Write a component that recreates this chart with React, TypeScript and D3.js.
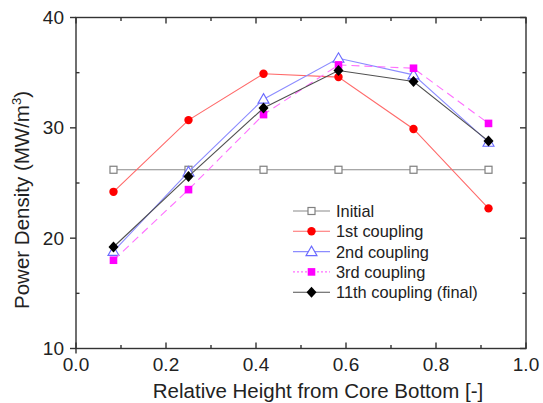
import React, { useRef, useEffect } from 'react';
import * as d3 from 'd3';

// relative height positions (cell centres)
const heights = [0.0833, 0.25, 0.4167, 0.5833, 0.75, 0.9167];

const initialValues = [26.2, 26.2, 26.2, 26.2, 26.2, 26.2];
const firstCoupling = [24.2, 30.7, 34.9, 34.6, 29.9, 22.7];
const secondCoupling = [18.8, 26.0, 32.6, 36.3, 34.8, 28.7];
const thirdCoupling = [18.0, 24.4, 31.2, 35.7, 35.4, 30.4];
const finalCoupling = [19.2, 25.6, 31.8, 35.2, 34.2, 28.8];

const xTicks = [0, 0.2, 0.4, 0.6, 0.8, 1.0];
const yTicks = [10, 20, 30, 40];

interface Series {
  name: string;
  values: number[];
  color: string;
  lineColor: string;
  dash: string | null;
  legendDash: string | null;
  marker: 'openSquare' | 'circle' | 'openTriangle' | 'square' | 'diamond';
}

const series: Series[] = [
  { name: 'Initial', values: initialValues, color: '#808080', lineColor: '#8a8a8a', dash: null, legendDash: null, marker: 'openSquare' },
  { name: '1st coupling', values: firstCoupling, color: '#ff0000', lineColor: '#ff6a6a', dash: null, legendDash: null, marker: 'circle' },
  { name: '2nd coupling', values: secondCoupling, color: '#6a6aff', lineColor: '#8c8cff', dash: null, legendDash: null, marker: 'openTriangle' },
  { name: '3rd coupling', values: thirdCoupling, color: '#ff00ff', lineColor: '#ff70ff', dash: '8,5', legendDash: '2,2', marker: 'square' },
  { name: '11th coupling (final)', values: finalCoupling, color: '#000000', lineColor: '#505050', dash: null, legendDash: null, marker: 'diamond' },
];

const W = 543;
const H = 403;

const App: React.FC = () => {
  const svgRef = useRef<SVGSVGElement>(null);

  useEffect(() => {
    if (!svgRef.current) return;
    const svg = d3.select(svgRef.current);
    svg.selectAll('*').remove();

    const left = 76, right = 526, top = 17.5, bottom = 348.5;
    const x = d3.scaleLinear().domain([0, 1]).range([left, right]);
    const y = d3.scaleLinear().domain([10, 40]).range([bottom, top]);
    const font = 'Liberation Sans, Arial, sans-serif';
    const axisColor = '#333';

    svg.append('rect').attr('width', W).attr('height', H).attr('fill', 'white');

    const drawMarker = (g: d3.Selection<SVGGElement, unknown, null, undefined>, kind: Series['marker'], cx: number, cy: number, color: string) => {
      if (kind === 'openSquare') {
        g.append('rect').attr('x', cx - 3.5).attr('y', cy - 3.5).attr('width', 7).attr('height', 7)
          .attr('fill', 'white').attr('stroke', color).attr('stroke-width', 1.2);
      } else if (kind === 'circle') {
        g.append('circle').attr('cx', cx).attr('cy', cy).attr('r', 4.2).attr('fill', color);
      } else if (kind === 'openTriangle') {
        g.append('path').attr('d', `M${cx},${cy - 5.5}L${cx + 5.5},${cy + 4}L${cx - 5.5},${cy + 4}Z`)
          .attr('fill', 'white').attr('stroke', color).attr('stroke-width', 1.1);
      } else if (kind === 'square') {
        g.append('rect').attr('x', cx - 3.8).attr('y', cy - 3.8).attr('width', 7.6).attr('height', 7.6).attr('fill', color);
      } else {
        g.append('path').attr('d', `M${cx},${cy - 5.5}L${cx + 5},${cy}L${cx},${cy + 5.5}L${cx - 5},${cy}Z`).attr('fill', color);
      }
    };

    // series
    const line = d3.line<number>().x((_, i) => x(heights[i])).y(d => y(d));
    series.forEach(s => {
      const g = svg.append('g');
      g.append('path').attr('d', line(s.values) || '').attr('fill', 'none')
        .attr('stroke', s.lineColor).attr('stroke-width', 1.1)
        .attr('stroke-dasharray', s.dash ?? null);
      s.values.forEach((v, i) => drawMarker(g as any, s.marker, x(heights[i]), y(v), s.color));
    });

    // frame
    const frame = svg.append('g').attr('stroke', axisColor).attr('stroke-width', 1.4).attr('fill', 'none');
    frame.append('rect').attr('x', left).attr('y', top).attr('width', right - left).attr('height', bottom - top);

    // x ticks (inward, bottom & top)
    d3.range(0, 1.0001, 0.1).forEach((t, i) => {
      const major = i % 2 === 0;
      const len = major ? 6 : 3.5;
      const px = x(t);
      frame.append('line').attr('x1', px).attr('x2', px).attr('y1', bottom).attr('y2', bottom - len);
      frame.append('line').attr('x1', px).attr('x2', px).attr('y1', top).attr('y2', top + len);
    });
    frame.append('line').attr('x1', left).attr('x2', left).attr('y1', bottom).attr('y2', bottom + 5);

    // y ticks: major outward on left, minor inward; right side inward
    d3.range(10, 40.001, 5).forEach(t => {
      const major = t % 10 === 0;
      const py = y(t);
      if (major) {
        frame.append('line').attr('x1', left).attr('x2', left - 6).attr('y1', py).attr('y2', py);
      } else {
        frame.append('line').attr('x1', left).attr('x2', left + 3.5).attr('y1', py).attr('y2', py);
      }
      const len = major ? 6 : 3.5;
      frame.append('line').attr('x1', right).attr('x2', right - len).attr('y1', py).attr('y2', py);
    });

    // tick labels
    svg.append('g').selectAll('text').data(xTicks).enter().append('text')
      .attr('x', d => x(d)).attr('y', 371).attr('text-anchor', 'middle')
      .attr('font-family', font).attr('font-size', 19).attr('fill', '#222')
      .text(d => d.toFixed(1));
    svg.append('g').selectAll('text').data(yTicks).enter().append('text')
      .attr('x', left - 12).attr('y', d => y(d) + 6.5).attr('text-anchor', 'end')
      .attr('font-family', font).attr('font-size', 19).attr('fill', '#222')
      .text(d => String(d));

    // axis titles
    svg.append('text').attr('x', 318).attr('y', 398).attr('text-anchor', 'middle')
      .attr('font-family', font).attr('font-size', 20.5).attr('fill', '#222')
      .text('Relative Height from Core Bottom [-]');
    const yt = svg.append('text').attr('transform', `translate(29, 200) rotate(-90)`)
      .attr('text-anchor', 'middle').attr('font-family', font).attr('font-size', 20.5).attr('fill', '#222');
    yt.append('tspan').text('Power Density (MW/m');
    yt.append('tspan').attr('dy', -8).attr('font-size', 13).text('3');
    yt.append('tspan').attr('dy', 8).text(')');

    // legend
    const legend = svg.append('g');
    series.forEach((s, i) => {
      const ly = 211 + i * 20.3;
      const row = legend.append('g');
      row.append('line').attr('x1', 293).attr('x2', 330).attr('y1', ly).attr('y2', ly)
        .attr('stroke', s.lineColor).attr('stroke-width', 1.1)
        .attr('stroke-dasharray', s.legendDash ?? null);
      drawMarker(row as any, s.marker, 311.5, ly, s.color);
      row.append('text').attr('x', 336).attr('y', ly + 6)
        .attr('font-family', font).attr('font-size', 16.4).attr('fill', '#222')
        .text(s.name);
    });
  }, []);

  return (
    <svg ref={svgRef} width={W} height={H}
      style={{ position: 'absolute', left: 0, top: 0, display: 'block' }} />
  );
};

export default App;
